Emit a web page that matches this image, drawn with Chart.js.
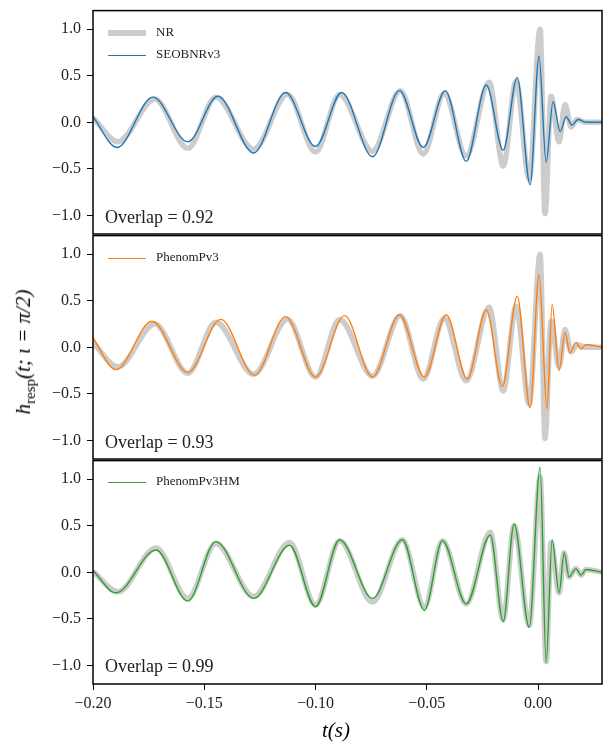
<!DOCTYPE html>
<html>
<head>
<meta charset="utf-8">
<script src="https://cdn.jsdelivr.net/npm/chart.js@4.4.0/dist/chart.umd.min.js"></script>
<style>
  body { margin: 0; background: #fff; width: 603px; height: 742px; overflow: hidden; position: relative; font-family: "Liberation Serif", serif; }
  canvas { position: absolute; left: 0; }
  .leg { position: absolute; left: 108px; font-size: 13px; color: #222; }
  .leg span.l { display: inline-block; width: 38px; vertical-align: middle; margin-right: 10px; }
  .ov { position: absolute; left: 105px; font-size: 18px; color: #222; }
  .ylab { position: absolute; left: 25px; top: 352px; transform: translate(-50%, -50%) rotate(-90deg); font-size: 21px; white-space: nowrap; font-style: italic; }
  .xlab { position: absolute; left: 336px; top: 730px; transform: translate(-50%, -50%); font-size: 21px; font-style: italic; }
</style>
</head>
<body>
<canvas id="c1" width="603" height="266" style="top:-5px"></canvas>
<canvas id="c2" width="603" height="266" style="top:220px"></canvas>
<canvas id="c3" width="603" height="297" style="top:445px"></canvas>

<div class="leg" style="top:24px"><span class="l" style="border-top:6px solid #cccccc"></span>NR</div>
<div class="leg" style="top:46px"><span class="l" style="border-top:1.5px solid #1f77b4"></span>SEOBNRv3</div>
<div class="leg" style="top:249px"><span class="l" style="border-top:1.5px solid #ff7f0e"></span>PhenomPv3</div>
<div class="leg" style="top:473px"><span class="l" style="border-top:1.5px solid #2ca02c"></span>PhenomPv3HM</div>
<div class="ov" style="top:207px">Overlap = 0.92</div>
<div class="ov" style="top:432px">Overlap = 0.93</div>
<div class="ov" style="top:656px">Overlap = 0.99</div>
<div class="ylab">h<sub style="font-style:normal;font-size:15px">resp</sub>(t; ι = π/2)</div>
<div class="xlab">t(s)</div>

<script>
// NR waveform (panels 1 and 2): extrema
const nrTimes = [-0.2, -0.1888, -0.1722, -0.1574, -0.1448, -0.1278, -0.1126, -0.1, -0.0892, -0.0744, -0.0619, -0.0516, -0.0422, -0.0323, -0.0220, -0.0157, -0.0099, -0.0040, 0.0009, 0.0031, 0.0058, 0.0094, 0.0121, 0.0148, 0.0175, 0.0215, 0.0287];
const nrValues = [0.05, -0.21, 0.25, -0.28, 0.27, -0.29, 0.30, -0.32, 0.30, -0.31, 0.34, -0.34, 0.31, -0.36, 0.43, -0.47, 0.44, -0.61, 1.0, -0.98, 0.28, -0.21, 0.19, -0.05, 0.03, 0.0, 0.0];

const seobTimes = [-0.2, -0.1892, -0.1731, -0.1574, -0.1439, -0.1278, -0.1135, -0.1, -0.0883, -0.0744, -0.0623, -0.0516, -0.0417, -0.0323, -0.0233, -0.0157, -0.0094, -0.0036, 0.0004, 0.0036, 0.0067, 0.0099, 0.0126, 0.0152, 0.0179, 0.0215, 0.0287];
const seobValues = [0.06, -0.27, 0.27, -0.21, 0.28, -0.33, 0.32, -0.26, 0.32, -0.37, 0.34, -0.27, 0.34, -0.42, 0.40, -0.30, 0.48, -0.67, 0.71, -0.43, 0.22, -0.10, 0.06, -0.03, 0.03, 0.0, 0.0];

const pv3Times = [-0.2, -0.1897, -0.1735, -0.1574, -0.1426, -0.1274, -0.1135, -0.1, -0.0870, -0.0744, -0.0623, -0.0511, -0.0413, -0.0318, -0.0233, -0.0161, -0.0094, -0.0036, 0.0004, 0.0040, 0.0063, 0.0094, 0.0121, 0.0143, 0.0170, 0.0193, 0.0215, 0.0287];
const pv3Values = [0.10, -0.24, 0.28, -0.27, 0.30, -0.30, 0.33, -0.32, 0.34, -0.32, 0.35, -0.32, 0.35, -0.34, 0.40, -0.42, 0.55, -0.65, 0.78, -0.66, 0.46, -0.25, 0.16, -0.06, 0.05, -0.02, 0.03, 0.0];

// NR waveform with higher modes (panel 3)
const nrHmTimes = [-0.2, -0.1888, -0.1717, -0.1574, -0.1448, -0.1278, -0.1117, -0.1, -0.0892, -0.0744, -0.0610, -0.0511, -0.0430, -0.0323, -0.0215, -0.0157, -0.0108, -0.0040, 0.0009, 0.0036, 0.0058, 0.0094, 0.0117, 0.0139, 0.0170, 0.0193, 0.0215, 0.0287];
const nrHmValues = [0.01, -0.21, 0.26, -0.28, 0.31, -0.26, 0.32, -0.35, 0.34, -0.32, 0.35, -0.37, 0.34, -0.34, 0.43, -0.51, 0.50, -0.57, 1.02, -0.96, 0.32, -0.22, 0.21, -0.05, 0.04, -0.03, 0.03, 0.0];

const pv3hmTimes = [-0.2, -0.1897, -0.1717, -0.1574, -0.1448, -0.1278, -0.1117, -0.1, -0.0892, -0.0744, -0.0610, -0.0511, -0.0430, -0.0323, -0.0215, -0.0157, -0.0108, -0.0040, 0.0009, 0.0036, 0.0063, 0.0094, 0.0117, 0.0139, 0.0170, 0.0193, 0.0215, 0.0287];
const pv3hmValues = [0.02, -0.22, 0.24, -0.31, 0.33, -0.28, 0.29, -0.37, 0.35, -0.28, 0.35, -0.41, 0.34, -0.34, 0.40, -0.53, 0.52, -0.59, 1.13, -0.97, 0.35, -0.22, 0.21, -0.05, 0.04, -0.03, 0.03, 0.0];

const yTicks = [-1.0, -0.5, 0.0, 0.5, 1.0];
const xTicks = [-0.20, -0.15, -0.10, -0.05, 0.00];

const toPoints = (ts, vs) => ts.map((t, i) => ({ x: t, y: vs[i] }));
const fmt = (v, d) => (v < 0 ? "\u2212" : "") + Math.abs(v).toFixed(d);
const tickFont = { family: "Liberation Serif", size: 16 };

// black frame around each plot area
const framePlugin = {
  id: "frame",
  afterDraw(chart) {
    const a = chart.chartArea, ctx = chart.ctx;
    ctx.save();
    ctx.strokeStyle = "#000";
    ctx.lineWidth = 1.5;
    ctx.strokeRect(a.left, a.top, a.right - a.left, a.bottom - a.top);
    ctx.restore();
  },
};

function makePanel(id, model, color, nrT, nrV, showX, top, bottom) {
  const ctx = document.getElementById(id).getContext("2d");
  return new Chart(ctx, {
    type: "line",
    data: {
      datasets: [
        { data: toPoints(nrT, nrV), borderColor: "#cccccc", borderWidth: 5.5, pointRadius: 0, cubicInterpolationMode: "monotone", order: 2 },
        { data: toPoints(model.t, model.v), borderColor: color, borderWidth: 1.4, pointRadius: 0, cubicInterpolationMode: "monotone", order: 1 },
      ],
    },
    plugins: [framePlugin],
    options: {
      responsive: false,
      animation: false,
      events: [],
      layout: { padding: { top: top, bottom: bottom, right: 1, left: 0 } },
      plugins: { legend: { display: false }, tooltip: { enabled: false } },
      scales: {
        x: {
          type: "linear", min: -0.2, max: 0.0287, display: showX,
          grid: { drawOnChartArea: false, drawTicks: true, tickLength: 6, tickColor: "#000" },
          border: { display: false },
          afterBuildTicks: (s) => { s.ticks = xTicks.map((v) => ({ value: v })); },
          afterFit: (s) => { s.height = 26; },
          ticks: {
            color: "#222", font: tickFont, padding: 4, maxRotation: 0,
            callback: (v) => fmt(v, 2),
          },
        },
        y: {
          min: -1.2, max: 1.2,
          grid: { drawOnChartArea: false, drawTicks: true, tickLength: 6, tickColor: "#000" },
          border: { display: false },
          afterBuildTicks: (s) => { s.ticks = yTicks.map((v) => ({ value: v })); },
          afterFit: (s) => { s.width = 93; },
          ticks: { color: "#222", font: tickFont, padding: 6, callback: (v) => fmt(v, 1) },
        },
      },
    },
  });
}

const charts = [
  makePanel("c1", { t: seobTimes, v: seobValues }, "#1f77b4", nrTimes, nrValues, false, 0, 1),
  makePanel("c2", { t: pv3Times, v: pv3Values }, "#ff7f0e", nrTimes, nrValues, false, 0, 1),
  makePanel("c3", { t: pv3hmTimes, v: pv3hmValues }, "#2ca02c", nrHmTimes, nrHmValues, true, 0, 32),
];
</script>
</body>
</html>
